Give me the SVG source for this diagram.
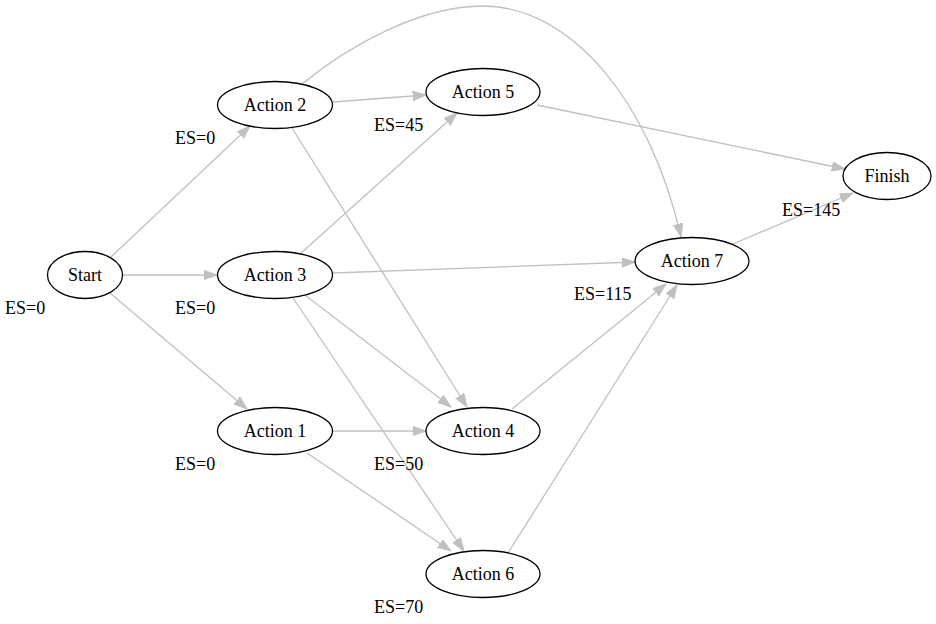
<svg xmlns="http://www.w3.org/2000/svg" width="936" height="624" viewBox="0 0 936 624">
<style>
.bg{fill:#ffffff}
.node ellipse{fill:none;stroke:#000000;stroke-width:1.3}
.node text,.lbl{font-family:"Liberation Serif","Times New Roman",serif;font-size:18px;fill:#000000}
.node text{text-anchor:middle}
#edges path{fill:none;stroke:#c0c0c0;stroke-width:1.3;marker-end:url(#arr)}
</style>
<defs>
<marker id="arr" markerUnits="userSpaceOnUse" markerWidth="14" markerHeight="10" refX="13.3" refY="4.7" orient="auto">
<path d="M0,0 L13.3,4.7 L0,9.4 z" fill="#c0c0c0" stroke="#c0c0c0" stroke-width="1"/>
</marker>
</defs>
<rect class="bg" x="0" y="0" width="936" height="624"/>
<g id="edges">
<path id="e-start-a2" d="M111,257 L250,126"/>
<path id="e-start-a3" d="M123,275 L217,275"/>
<path id="e-start-a1" d="M110,293 L247,409"/>
<path id="e-a2-a5" d="M333,102 L426,95"/>
<path id="e-a2-a7" d="M302,84 C350,45 420,6 483,6 C570,6 650,100 681,237"/>
<path id="e-a2-a4" d="M292,128 L467,407"/>
<path id="e-a3-a5" d="M300,254 L457,113"/>
<path id="e-a3-a7" d="M333,273 L635,262"/>
<path id="e-a3-a4" d="M305,295 L451,407"/>
<path id="e-a3-a6" d="M293,298 L464,551"/>
<path id="e-a1-a4" d="M333,431 L426,431"/>
<path id="e-a1-a6" d="M307,453 L451,551"/>
<path id="e-a5-fin" d="M537,105 L845,169"/>
<path id="e-a4-a7" d="M512,409 L666,284"/>
<path id="e-a6-a7" d="M508,553 L677,285"/>
<path id="e-a7-fin" d="M733,244 L853,193"/>
</g>
<g id="n-start" class="node"><ellipse cx="85" cy="275" rx="37.5" ry="23.5"/><text x="85" y="281">Start</text></g>
<g id="n-a2" class="node"><ellipse cx="275" cy="105" rx="57.5" ry="23.5"/><text x="275" y="111">Action 2</text></g>
<g id="n-a3" class="node"><ellipse cx="275" cy="275" rx="57.5" ry="23.5"/><text x="275" y="281">Action 3</text></g>
<g id="n-a1" class="node"><ellipse cx="275" cy="431" rx="57.5" ry="23.5"/><text x="275" y="437">Action 1</text></g>
<g id="n-a5" class="node"><ellipse cx="483" cy="92" rx="57" ry="23.5"/><text x="483" y="98">Action 5</text></g>
<g id="n-a4" class="node"><ellipse cx="483" cy="431" rx="57" ry="23.5"/><text x="483" y="437">Action 4</text></g>
<g id="n-a6" class="node"><ellipse cx="483" cy="574" rx="57" ry="23.5"/><text x="483" y="580">Action 6</text></g>
<g id="n-a7" class="node"><ellipse cx="692" cy="261" rx="57" ry="23.5"/><text x="692" y="267">Action 7</text></g>
<g id="n-finish" class="node"><ellipse cx="887" cy="176" rx="44" ry="23.5"/><text x="887" y="182">Finish</text></g>
<g id="labels">
<text class="lbl" x="5" y="314">ES=0</text>
<text class="lbl" x="175" y="144">ES=0</text>
<text class="lbl" x="175" y="314">ES=0</text>
<text class="lbl" x="175" y="470">ES=0</text>
<text class="lbl" x="374" y="131">ES=45</text>
<text class="lbl" x="374" y="470">ES=50</text>
<text class="lbl" x="374" y="613">ES=70</text>
<text class="lbl" x="574" y="300">ES=115</text>
<text class="lbl" x="782" y="216">ES=145</text>
</g>
</svg>
